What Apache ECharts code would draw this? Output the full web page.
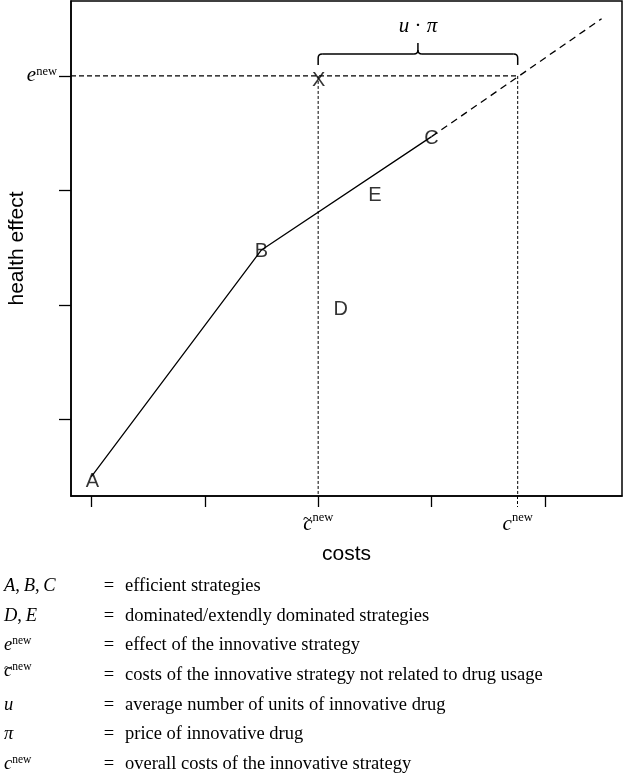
<!DOCTYPE html>
<html>
<head>
<meta charset="utf-8">
<script src="https://cdn.jsdelivr.net/npm/echarts@6/dist/echarts.min.js"></script>
<style>
html,body{margin:0;padding:0;background:#fff;}
#chart{width:623px;height:776px;}
</style>
</head>
<body>
<div id="chart"></div>
<script>
// ---- data ----
const strategyNames = ['A', 'B', 'C', 'D', 'E'];
const strategyCosts = [0.0, 1.5, 3.0, 2.2, 2.5];
const strategyEffects = [0.5, 2.48, 3.47, 1.97, 2.97];
const frontierNames = ['A', 'B', 'C'];
const cTilde = 2.0;     // costs not related to drug usage
const cNew = 3.76;      // overall costs of innovative strategy
const eNew = 4.0;       // effect of innovative strategy
const extensionEnd = [4.5, 4.5];
const xTicks = [0, 1, 2, 3, 4];
const yTicks = [1, 2, 3, 4];
const xMin = -0.18, xMax = 4.68;
const yMin = 0.33, yMax = 4.655;
const legendSymbols = [
  '{i|A},\u2009{i|B},\u2009{i|C}',
  '{i|D},\u2009{i|E}',
  '{ci|e}{cs|new}',
  '{t|~}{ci|c}{cs|new}',
  '{i|u}',
  '{i|\u03c0}',
  '{ci|c}{cs|new}'
];
const legendDescriptions = [
  'efficient strategies',
  'dominated/extendly dominated strategies',
  'effect of the innovative strategy',
  'costs of the innovative strategy not related to drug usage',
  'average number of units of innovative drug',
  'price of innovative drug',
  'overall costs of the innovative strategy'
];

// ---- build ----
const SERIF = 'Liberation Serif';
const SANS = 'Liberation Sans';
const frontier = frontierNames.map(n => {
  const i = strategyNames.indexOf(n);
  return [strategyCosts[i], strategyEffects[i]];
});
const cIdx = strategyNames.indexOf('C');
const labelPoints = strategyNames.map((n, i) => ({
  name: n,
  value: [strategyCosts[i], strategyEffects[i]],
  label: n === 'A' ? { offset: [1, 4.5] } : undefined
}));

const yRich = {
  i: { fontFamily: SERIF, fontStyle: 'italic', fontSize: 21, color: '#000', lineHeight: 22 },
  s: { fontFamily: SERIF, fontSize: 12.5, color: '#000', verticalAlign: 'top', lineHeight: 22 }
};
const xRich = {
  ci: { fontFamily: SERIF, fontStyle: 'italic', fontSize: 21, color: '#000', lineHeight: 26 },
  cs: { fontFamily: SERIF, fontSize: 12.5, color: '#000', verticalAlign: 'top', lineHeight: 9 },
  t: { fontFamily: SERIF, fontSize: 16, color: '#000', verticalAlign: 'top', lineHeight: 1, width: 0.1, align: 'left' }
};

const blackDash = (type, width) => ({ color: '#000', width: width, type: type });

const chart = echarts.init(document.getElementById('chart'));
const rowY0 = 586, rowStep = 29.7;
const LF = 18.5;
const graphics = [];
legendSymbols.forEach((sym, k) => {
  const y = rowY0 + rowStep * k;
  const raise = sym.indexOf('{t|') >= 0 ? 4 : 0;
  graphics.push({
    type: 'text', x: 4, y: y - raise,
    style: {
      text: sym, align: 'left', verticalAlign: 'middle',
      rich: {
        i: { fontFamily: SERIF, fontStyle: 'italic', fontSize: LF, fill: '#000', lineHeight: 20 },
        ci: { fontFamily: SERIF, fontStyle: 'italic', fontSize: LF, fill: '#000', lineHeight: 20 },
        cs: { fontFamily: SERIF, fontSize: 11.5, fill: '#000', verticalAlign: 'top', lineHeight: 10.5 },
        t: { fontFamily: SERIF, fontSize: 15, fill: '#000', verticalAlign: 'top', lineHeight: 4, width: 0.1, align: 'left' }
      },
      fontFamily: SERIF, fontSize: LF, fill: '#000'
    }
  });
  graphics.push({
    type: 'text', x: 109, y: y,
    style: { text: '=', align: 'center', verticalAlign: 'middle', fontFamily: SERIF, fontSize: LF, fill: '#000' }
  });
  graphics.push({
    type: 'text', x: 125, y: y,
    style: { text: legendDescriptions[k], align: 'left', verticalAlign: 'middle', fontFamily: SERIF, fontSize: LF, fill: '#000' }
  });
});

const option = {
  animation: false,
  backgroundColor: '#fff',
  grid: {
    left: 71, right: 1, top: 1, bottom: 280, show: true, borderColor: '#000', borderWidth: 1.5,
    backgroundColor: 'transparent', containLabel: false, outerBoundsMode: 'none'
  },
  xAxis: [{
    type: 'value', min: xMin, max: xMax,
    axisLine: { show: true, onZero: false, lineStyle: { color: '#000', width: 1.5 } },
    splitLine: { show: false },
    axisTick: { show: true, length: 11, customValues: xTicks, lineStyle: { color: '#000', width: 1.3 } },
    axisLabel: {
      customValues: [cTilde, cNew], margin: 15.7,
      formatter: v => (Math.abs(v - cTilde) < 1e-6 ? '{t|~}{ci|c}{cs|new}' : '{ci|c}{cs|new}'),
      rich: xRich
    },
    name: 'costs', nameLocation: 'middle', nameGap: 48, nameMoveOverlap: false,
    nameTextStyle: { fontFamily: SANS, fontSize: 21, color: '#000' }
  }, {
    type: 'value', min: xMin, max: xMax, position: 'bottom',
    axisLine: { show: false, onZero: false }, splitLine: { show: false }, axisLabel: { show: false },
    axisTick: { show: true, length: 11, customValues: [cNew], lineStyle: blackDash([3, 2], 1) }
  }],
  yAxis: [{
    type: 'value', min: yMin, max: yMax,
    axisLine: { show: true, onZero: false, lineStyle: { color: '#000', width: 1.5 } },
    splitLine: { show: false },
    axisTick: { show: true, length: 12, customValues: yTicks, lineStyle: { color: '#000', width: 1.3 } },
    axisLabel: { customValues: [eNew], margin: 14, formatter: () => '{i|e}{s|new}', rich: yRich },
    name: 'health effect', nameLocation: 'middle', nameGap: 43, nameMoveOverlap: false,
    nameTextStyle: { fontFamily: SANS, fontSize: 21, color: '#000' }
  }],
  series: [
    { type: 'line', data: frontier, symbol: 'none', lineStyle: { color: '#000', width: 1.3 }, z: 3 },
    { type: 'line', data: [[strategyCosts[cIdx], strategyEffects[cIdx]], extensionEnd], symbol: 'none', lineStyle: blackDash([7, 5], 1.3) },
    { type: 'line', data: [[xMin, eNew], [cNew, eNew]], symbol: 'none', lineStyle: blackDash([5, 3], 1.3) },
    { type: 'line', data: [[cTilde, eNew], [cTilde, yMin]], symbol: 'none', lineStyle: blackDash([3, 2], 1) },
    { type: 'line', data: [[cNew, eNew], [cNew, yMin]], symbol: 'none', lineStyle: blackDash([3, 2], 1) },
    {
      type: 'scatter', data: labelPoints, symbolSize: 2, itemStyle: { color: 'rgba(0,0,0,0)' }, z: 5,
      label: { show: true, position: 'inside', offset: [0, 1.5], formatter: p => p.name, fontFamily: SANS, fontSize: 20, color: '#000' }
    },
    {
      type: 'scatter', data: [{ name: 'X', value: [cTilde, eNew] }], symbolSize: 2, itemStyle: { color: 'rgba(0,0,0,0)' }, z: 5,
      label: { show: true, position: 'inside', offset: [0.5, 5], formatter: 'X', fontFamily: SANS, fontSize: 20, color: '#000' }
    },
    {
      type: 'custom', data: [[cTilde, cNew, eNew]], z: 6,
      renderItem: (params, api) => {
        const p1 = api.coord([api.value(0), api.value(2)]);
        const p2 = api.coord([api.value(1), api.value(2)]);
        const x1 = p1[0], x2 = p2[0], xm = (x1 + x2) / 2, y0 = p1[1];
        const yE = y0 - 11, yB = y0 - 22, yT = y0 - 33, r = 4;
        const st = { stroke: '#000', lineWidth: 1.5, fill: 'none' };
        return {
          type: 'group',
          children: [
            { type: 'line', shape: { x1: x1, y1: yE, x2: x1, y2: yB + r }, style: st },
            { type: 'bezierCurve', shape: { x1: x1, y1: yB + r, cpx1: x1, cpy1: yB, x2: x1 + r, y2: yB }, style: st },
            { type: 'line', shape: { x1: x1 + r, y1: yB, x2: xm - r, y2: yB }, style: st },
            { type: 'bezierCurve', shape: { x1: xm - r, y1: yB, cpx1: xm, cpy1: yB, x2: xm, y2: yB - r }, style: st },
            { type: 'line', shape: { x1: xm, y1: yB - r, x2: xm, y2: yT }, style: st },
            { type: 'bezierCurve', shape: { x1: xm + r, y1: yB, cpx1: xm, cpy1: yB, x2: xm, y2: yB - r }, style: st },
            { type: 'line', shape: { x1: xm + r, y1: yB, x2: x2 - r, y2: yB }, style: st },
            { type: 'bezierCurve', shape: { x1: x2 - r, y1: yB, cpx1: x2, cpy1: yB, x2: x2, y2: yB + r }, style: st },
            { type: 'line', shape: { x1: x2, y1: yB + r, x2: x2, y2: yE }, style: st },
            {
              type: 'text',
              style: {
                text: '{i|u}{n| \u00b7 }{i|\u03c0}', x: xm, y: yT - 16, align: 'center', verticalAlign: 'middle',
                rich: {
                  i: { fontFamily: SERIF, fontStyle: 'italic', fontSize: 21, fill: '#000' },
                  n: { fontFamily: SERIF, fontSize: 21, fill: '#000' }
                }
              }
            }
          ]
        };
      }
    }
  ],
  graphic: graphics
};
chart.setOption(option);
</script>
</body>
</html>
